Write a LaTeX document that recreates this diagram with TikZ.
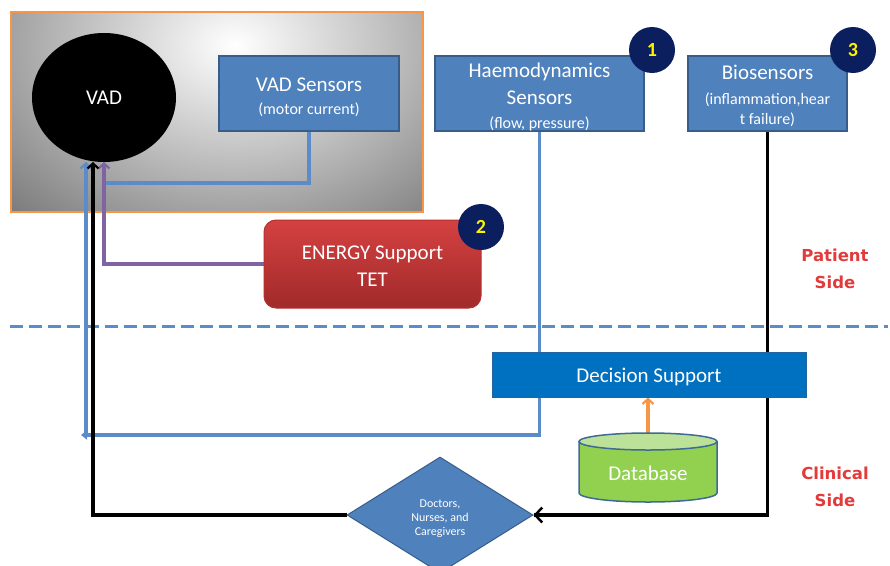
\documentclass[tikz,border=0pt]{standalone}
\usepackage{fontspec}
\setmainfont{Carlito}
\newfontfamily\sidefont{DejaVu Sans}
\usetikzlibrary{shapes.geometric,arrows.meta}
\definecolor{blueFill}{HTML}{4F81BD}
\definecolor{blueBorder}{HTML}{385D8A}
\definecolor{navyC}{HTML}{0B1F5E}
\definecolor{dsFill}{HTML}{0070C0}
\definecolor{dsBorder}{HTML}{2465A0}
\definecolor{dbGreen}{HTML}{92D050}
\definecolor{dbTop}{HTML}{BCE29A}
\definecolor{dbBorder}{HTML}{3E6A96}
\definecolor{redTop}{HTML}{D44141}
\definecolor{redBot}{HTML}{A12A2A}
\definecolor{redBorder}{HTML}{B83030}
\definecolor{purpleC}{HTML}{8064A2}
\definecolor{orangeC}{HTML}{F79646}
\definecolor{sideRed}{HTML}{E23B3B}
\definecolor{lineBlue}{HTML}{5B8BC8}
\pgfdeclarelayer{back}
\pgfdeclarelayer{bg}
\pgfsetlayers{back,bg,main}
\newcommand\fsz[2]{\fontsize{#1}{#2}\selectfont}
\begin{document}
\begin{tikzpicture}[x=1pt,y=-1pt,
  bluebox/.style={draw=blueBorder, fill=blueFill, line width=1.5pt, inner sep=0pt},
  txt/.style={text=white, align=center, inner sep=0pt},
  badge/.style={circle, fill=navyC, minimum size=46pt, inner sep=0pt, text=yellow, font=\fsz{20}{22}\bfseries},
  conn/.style={line width=3.6pt},
  barb/.style={-{Straight Barb[length=5pt,width=11pt,line width=2.2pt]}},
  sidelbl/.style={text=sideRed, align=center, font=\sidefont\bfseries\fsz{16.5}{27}}
]
\useasboundingbox (0,0) rectangle (890,565);
\clip (0,0) rectangle (890,565);

% background and gradient frame
\begin{pgfonlayer}{back}
  \fill[white] (0,0) rectangle (890,565);
  \begin{scope}
    \clip (11,12) rectangle (423,212);
    \shade[inner color=white, outer color=black!55] (235,45) ellipse (340pt and 250pt);
  \end{scope}
  \draw[orangeC, line width=2pt] (11,12) rectangle (423,212);
\end{pgfonlayer}

% nodes
\node[ellipse, fill=black, minimum width=144pt, minimum height=129pt, inner sep=0pt, text=white, font=\fsz{21}{25}] (vad) at (104,97.5) {VAD};

\node[bluebox, minimum width=180pt, minimum height=75pt,
  label={[txt, font=\fsz{21}{23}, yshift=-4pt]center:{VAD Sensors\\{\fsz{16}{20}(motor current)}}}] (vs) at (309,93.5) {};

\node[bluebox, minimum width=209pt, minimum height=75pt,
  label={[txt, font=\fsz{21}{27}, yshift=-3.5pt]center:{Haemodynamics\\Sensors\\[-3pt]{\fsz{16}{20}(flow, pressure)}}}] (hs) at (539.5,93.5) {};

\node[bluebox, minimum width=159pt, minimum height=75pt,
  label={[txt, font=\fsz{21}{25}, yshift=-2.5pt]center:{Biosensors\\{\fsz{16}{20}(inflammation,hear}\\[-5pt]{\fsz{16}{20}t failure)}}}] (bio) at (767.5,93.5) {};

\node[draw=redBorder, line width=1pt, rounded corners=12pt, top color=redTop, bottom color=redBot,
  minimum width=217pt, minimum height=88pt, inner sep=0pt,
  label={[txt, font=\fsz{21}{27}, yshift=-2pt]center:{ENERGY Support\\TET}}] (en) at (372.5,264) {};

\node[draw=dsBorder, line width=1pt, fill=dsFill, minimum width=314pt, minimum height=45pt, inner sep=0pt,
  label={[txt, font=\fsz{21}{25}, yshift=-2pt]center:{Decision Support}}] (ds) at (649,374.5) {};

% database cylinder
\filldraw[fill=dbGreen, draw=dbBorder, line width=1.5pt] (579,441.5) -- (579,493)
  arc[start angle=180, end angle=0, x radius=69, y radius=9] -- (717,441.5) -- cycle;
\filldraw[fill=dbTop, draw=dbBorder, line width=1.5pt] (648,441.5) ellipse (69pt and 8.5pt);
\node[minimum width=138pt, minimum height=72pt, inner sep=0pt,
  label={[txt, font=\fsz{21}{25}, yshift=-4pt]center:{Database}}] (db) at (648,469) {};

\node[diamond, fill=blueFill, draw=blueBorder, line width=1pt, minimum width=186pt, minimum height=116pt, inner sep=0pt,
  label={[txt, font=\fsz{12}{14}, yshift=-3.5pt]center:{Doctors,\\Nurses, and\\Caregivers}}] (doc) at (440,515) {};

\node[badge] (b1) at (652,50) {1};
\node[badge] (b3) at (853,50) {3};
\node[badge] (b2) at (481,227) {2};

\node[sidelbl] (ps) at (835,269) {Patient\\Side};
\node[sidelbl] (cs) at (835,487) {Clinical\\Side};

% connector end points at the VAD
\coordinate (bA) at (86,162);
\coordinate (kA) at (93,162);
\coordinate (pA) at (104,162);
\coordinate (bB) at (86,435);
\coordinate (bL) at (81,435);
\coordinate (mJ) at (106,183);

\begin{pgfonlayer}{bg}
  \draw[lineBlue, line width=3pt, dash pattern=on 13pt off 6pt] (10,326) -- (888,326);
  \draw[conn, lineBlue] (vs.south) |- (mJ);
  \draw[conn, purpleC, barb] (en.west) -| (pA);
  \draw[conn, lineBlue, -{Triangle[length=6pt,width=9pt]}] (hs.south) |- (bL);
  \draw[conn, lineBlue, barb] (bB) -- (bA);
  \draw[conn, black] (bio.south) |- (doc.east);
  \draw[conn, black, -{Straight Barb[length=7pt,width=15pt,line width=2.5pt]}] (bio.south |- doc.east) -- (doc.east);
  \draw[conn, black, barb] (doc.west) -| (kA);
  \draw[conn, orangeC, barb] (db.north) -- (db.north |- ds.south);
\end{pgfonlayer}
\end{tikzpicture}
\end{document}
